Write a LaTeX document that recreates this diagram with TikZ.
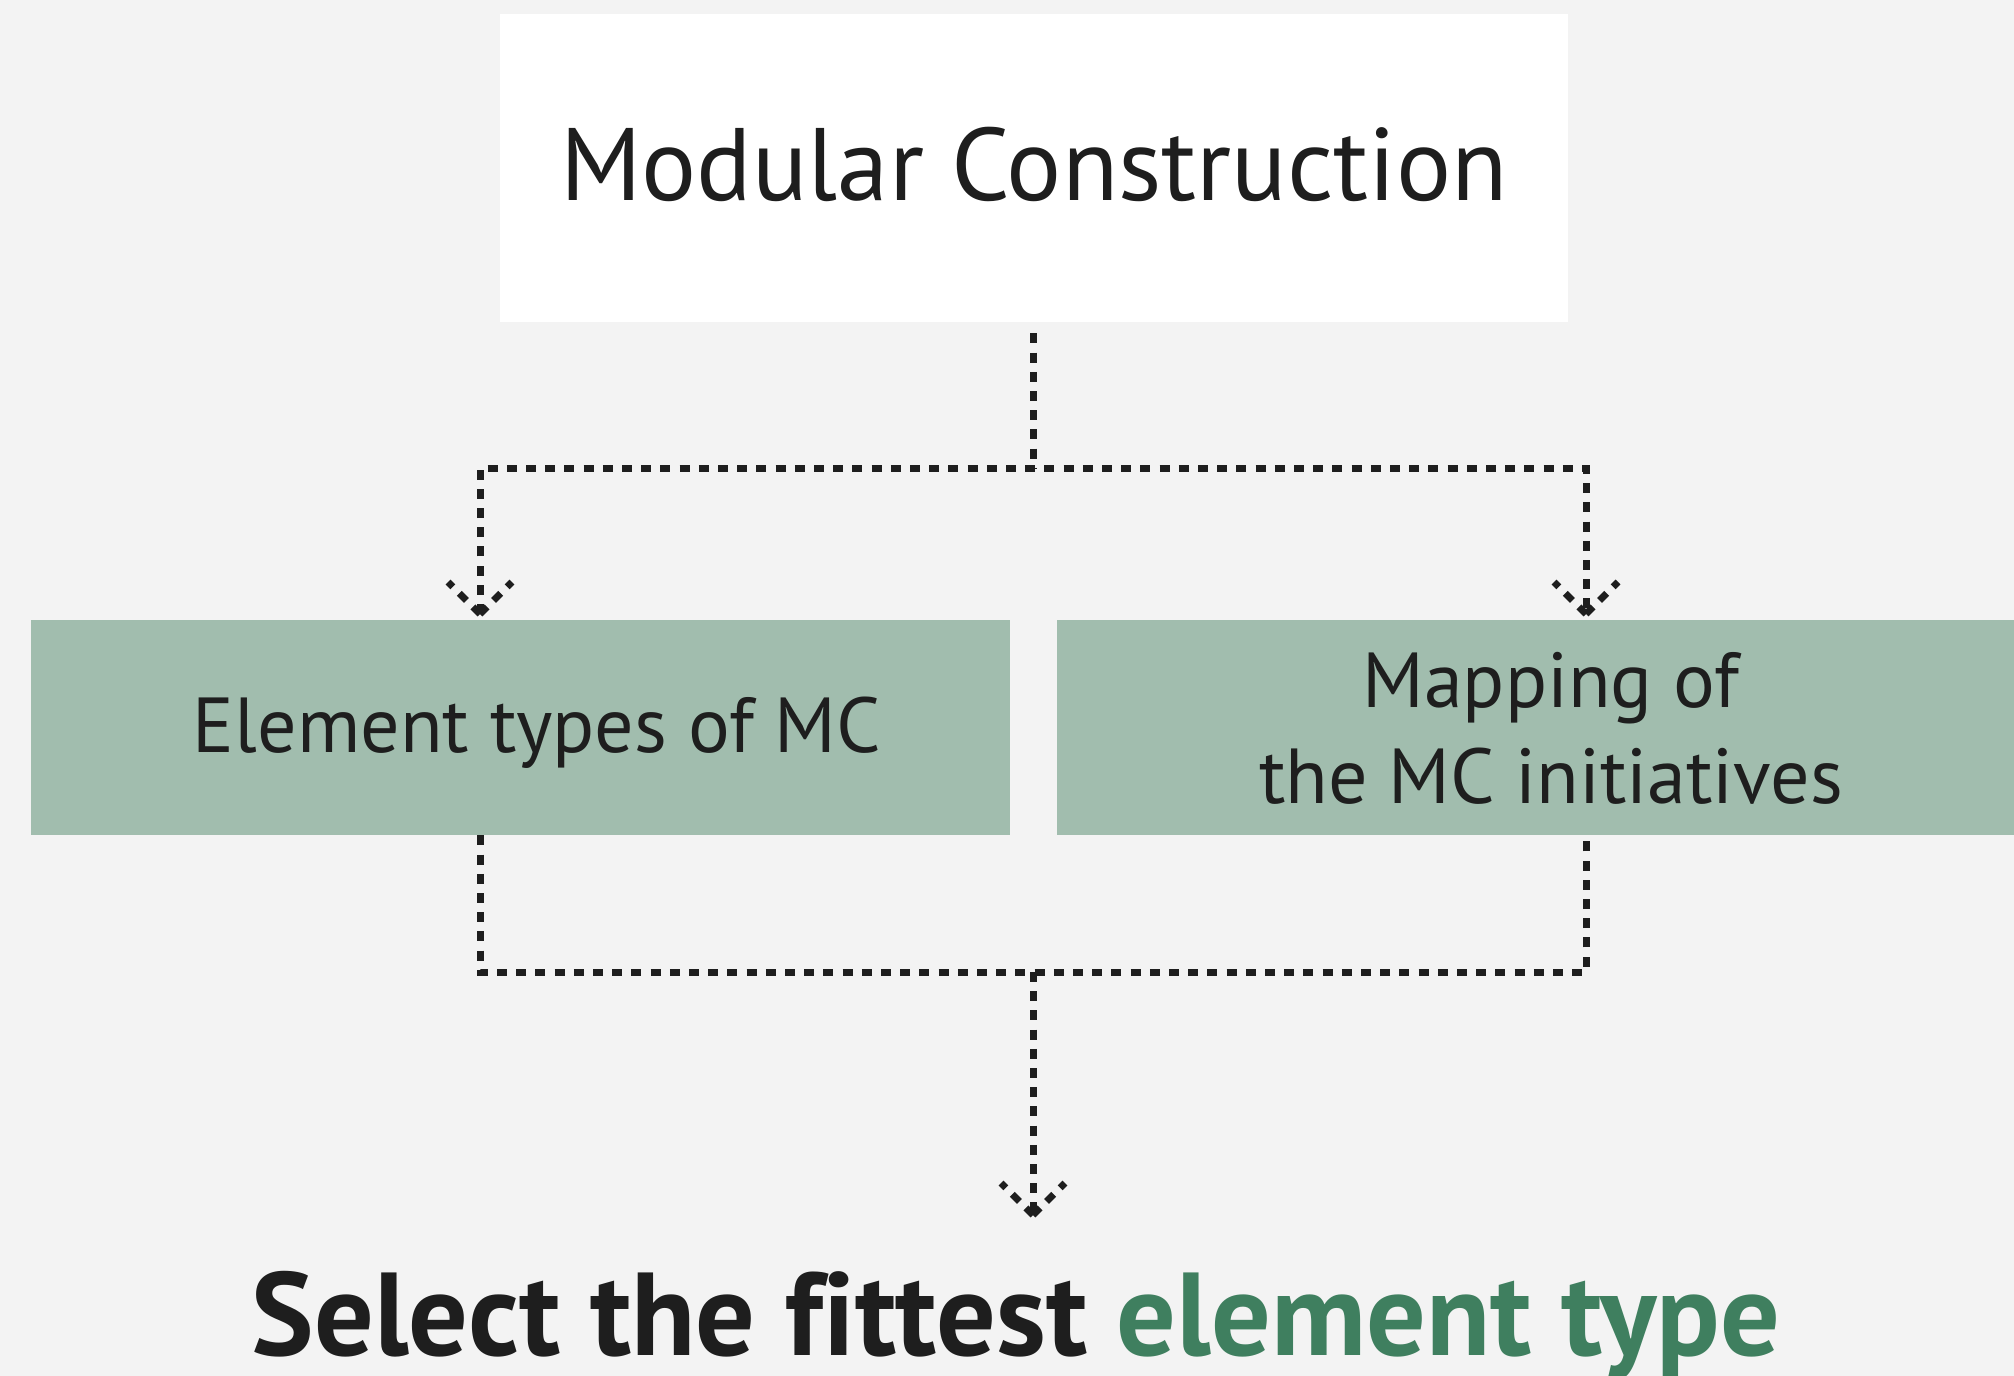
\documentclass[tikz,border=0pt]{standalone}
\usepackage{fontspec}
\setmainfont[Ligatures=NoCommon]{PT Sans}
\usetikzlibrary{calc}
\definecolor{bg}{HTML}{F3F3F3}
\definecolor{boxgreen}{HTML}{A1BDAE}
\definecolor{ink}{HTML}{1E1E1E}
\definecolor{accent}{HTML}{3F7F5F}
\tikzset{
  px/.style={x=0.5pt,y=-0.5pt},
  flow/.style={draw=ink,line width=3.5pt,dash pattern=on 5pt off 4.6pt},
  headbox/.style={fill=white,minimum width=534pt,minimum height=154pt,inner sep=0pt},
  stagebox/.style={fill=boxgreen,minimum height=107.5pt,inner sep=0pt},
  stagetext/.style={align=center,font=\fontsize{39}{48}\selectfont,text=ink,inner sep=0pt},
}
% open arrow head: two dashed arms running outward from the tip
\newcommand{\openhead}[1]{%
  \draw[flow] (#1) -- ($(#1)+(-32,-32)$);
  \draw[flow] (#1) -- ($(#1)+(32,-32)$);}
\begin{document}
\begin{tikzpicture}[px]
  \useasboundingbox[fill=bg] (0,0) rectangle (2014,1376);
  % boxes
  \node[headbox] (top) at (1034,168) {};
  \node[font=\fontsize{51.5}{60}\selectfont,text=ink] (toptext) at (1034,164) {Modular Construction};
  \node[stagebox,minimum width=489.5pt] (left) at (520.5,727.5) {};
  \node[stagetext] (ltext) at (537,733) {Element types of MC};
  \node[stagebox,minimum width=478.5pt] (right) at (1535.5,727.5) {};
  \node[stagetext] (rtext) at (1551,728) {Mapping of\\the MC initiatives};
  \node[font=\fontsize{59}{64}\selectfont\bfseries,text=ink,anchor=base] (goal) at (1016,1355)
    {Select the fittest \textcolor{accent}{element type}};
  % junction points
  \coordinate (split) at (1033,468);
  \coordinate (merge) at (1033,972);
  \coordinate (tipL) at (480,614);
  \coordinate (tipR) at (1586,614);
  \coordinate (tipG) at (1033,1215);
  % fan-out from the header
  \draw[flow] ($(top.south)+(-1,11)$) -- (split);
  \draw[flow] (tipL) |- (split) -| (tipR);
  \openhead{tipL}
  \openhead{tipR}
  % fan-in towards the goal
  \draw[flow] (tipL |- left.south) |- (merge) -| (tipR |- right.south);
  \draw[flow] (merge) -- (tipG);
  \openhead{tipG}
\end{tikzpicture}
\end{document}
